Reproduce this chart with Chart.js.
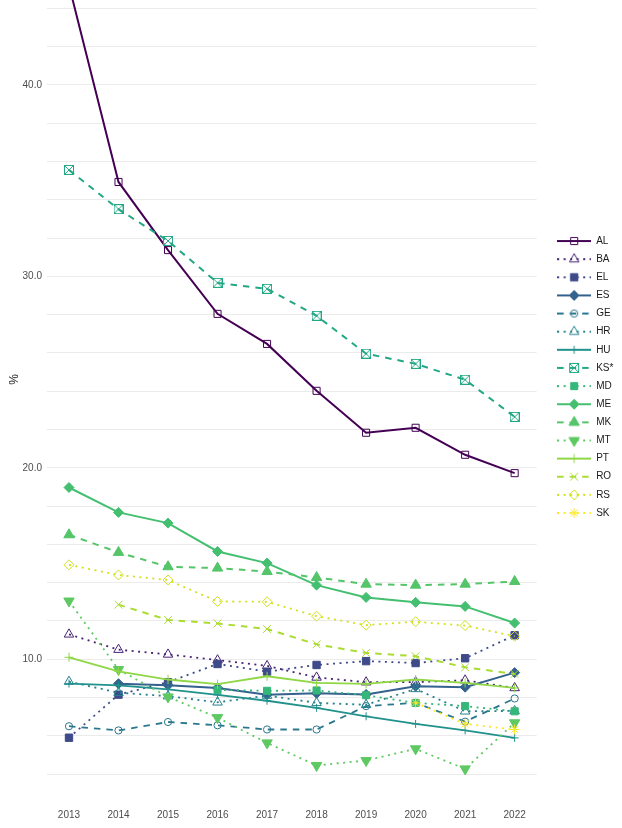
<!DOCTYPE html>
<html><head><meta charset="utf-8">
<script src="https://cdn.jsdelivr.net/npm/chart.js@4.4.1/dist/chart.umd.min.js"></script>
<style>
html,body{margin:0;padding:0;background:#fff;overflow:hidden;width:622px;height:828px;}
#wrap{position:absolute;left:0;top:-54px;width:622px;height:882px;}
</style></head><body>
<div id="wrap"><canvas id="c" width="622" height="882"></canvas></div>
<script>
// ---- data ----
const years = [2013, 2014, 2015, 2016, 2017, 2018, 2019, 2020, 2021, 2022];
const countries = ["AL","BA","EL","ES","GE","HR","HU","KS*","MD","ME","MK","MT","PT","RO","RS","SK"];
const AL = [45.2, 34.93, 31.37, 28.04, 26.47, 24.02, 21.83, 22.09, 20.68, 19.72];
const BA = [11.3, 10.5, 10.25, 9.95, 9.65, 9.05, 8.8, 8.8, 8.9, 8.5];
const EL = [5.9, 8.15, 8.8, 9.75, 9.35, 9.7, 9.9, 9.8, 10.05, 11.25];
const ES = [null, 8.72, 8.64, 8.5, 8.15, 8.22, 8.16, 8.59, 8.54, 9.3];
const GE = [6.5, 6.28, 6.72, 6.55, 6.33, 6.33, 7.55, 7.72, 6.74, 7.95];
const HR = [8.83, 8.25, 8.07, 7.75, 8.1, 7.72, 7.62, 8.45, 7.28, 7.3];
const HU = [8.73, 8.63, 8.42, 8.14, 7.83, 7.46, 7.02, 6.62, 6.28, 5.89];
const KS = [35.56, 33.51, 31.85, 29.66, 29.35, 27.94, 25.96, 25.43, 24.6, 22.66];
const MD = [null, null, null, 8.4, 8.35, 8.37, 8.12, 7.72, 7.55, 7.28];
const ME = [18.97, 17.67, 17.11, 15.63, 15.02, 13.87, 13.23, 12.97, 12.76, 11.89];
const MK = [16.5, 15.58, 14.83, 14.76, 14.58, 14.27, 13.92, 13.87, 13.92, 14.06];
const MT = [13.04, 9.46, 8.03, 6.95, 5.63, 4.45, 4.71, 5.32, 4.27, 6.68];
const PT = [10.1, 9.37, 8.94, 8.7, 9.11, 8.76, 8.71, 8.94, 8.76, 8.5];
const RO = [null, 12.85, 12.05, 11.87, 11.58, 10.78, 10.33, 10.16, 9.58, 9.23];
const RS = [14.93, 14.4, 14.14, 13.02, 13.0, 12.25, 11.78, 11.96, 11.76, 11.2];
const SK = [null, null, null, null, null, null, null, 7.72, 6.62, 6.33];
const seriesValues = [AL, BA, EL, ES, GE, HR, HU, KS, MD, ME, MK, MT, PT, RO, RS, SK];
const yTickValues = [4,6,8,10,12,14,16,18,20,22,24,26,28,30,32,34,36,38,40,42,44,46];

// ---- styles ----
const colors = ["#440154","#482475","#3E4A89","#34618D","#2A788E","#26828E","#21918C","#22A884",
                "#35B779","#44BF70","#54C568","#5EC962","#8FD744","#AADC32","#D2E21B","#FDE725"];
const DOT = [2, 4.5], DASH = [6.5, 6], SOLID = [];
const dashes = [SOLID, DOT, DOT, SOLID, DASH, DOT, SOLID, DASH, DOT, SOLID, DASH, DOT, SOLID, DASH, DOT, DOT];
const lineW  = [2, 1.8, 1.8, 2, 1.8, 1.8, 1.8, 2, 1.8, 2, 2, 1.8, 1.8, 2, 1.8, 1.8];

function squareCross(col){
  const c = document.createElement('canvas'); c.width = 10; c.height = 10;
  const g = c.getContext('2d'); g.strokeStyle = col; g.lineWidth = 1;
  g.strokeRect(0.5,0.5,9,9);
  g.beginPath(); g.moveTo(0.5,0.5); g.lineTo(9.5,9.5); g.moveTo(9.5,0.5); g.lineTo(0.5,9.5); g.stroke();
  return c;
}
// marker: [style, radius, filled, rotation]
const markers = [
  ['rect',5,false,0], ['triangle',5.5,false,0], ['rect',5.2,true,0], ['rectRot',5,true,0],
  ['circle',3.6,false,0], ['triangle',5.5,false,0], ['cross',4,false,0], [squareCross(colors[7]),5,false,0],
  ['rect',5,true,0], ['rectRot',5,true,0], ['triangle',6,true,0], ['triangle',6,true,180],
  ['cross',4.5,false,0], ['crossRot',5.5,false,0], ['rectRot',5,false,0], ['star',5,false,0]
];

function makeIcon(i){
  const c = document.createElement('canvas'); c.width = 34; c.height = 14;
  const g = c.getContext('2d');
  g.strokeStyle = colors[i]; g.lineWidth = lineW[i]; g.setLineDash(dashes[i]);
  g.beginPath(); g.moveTo(0,7); g.lineTo(34,7); g.stroke();
  g.setLineDash([]);
  const m = markers[i];
  g.fillStyle = m[2] ? colors[i] : 'rgba(0,0,0,0)';
  g.strokeStyle = colors[i]; g.lineWidth = 1;
  if (typeof m[0] !== 'string') { g.drawImage(m[0], 17 - 5, 7 - 5); }
  else { Chart.helpers.drawPoint(g, {pointStyle:m[0], radius:m[1], rotation:m[3], borderWidth:1}, 17, 7); }
  return c;
}

Chart.defaults.font.family = '"Liberation Sans", Arial, sans-serif';

const datasets = countries.map((name, i) => ({
  label: name,
  data: years.map((yr, k) => ({x: yr, y: seriesValues[i][k]})),
  borderColor: colors[i],
  borderWidth: lineW[i],
  borderDash: dashes[i],
  tension: 0,
  spanGaps: false,
  pointStyle: markers[i][0],
  pointRadius: markers[i][1],
  pointRotation: markers[i][3],
  pointBackgroundColor: markers[i][2] ? colors[i] : 'rgba(0,0,0,0)',
  pointBorderColor: colors[i],
  pointBorderWidth: 1,
  order: countries.length - i
}));

const legendShift = {
  id: 'legendShift',
  afterLayout(chart) {
    const lg = chart.legend; if (!lg) return;
    const dx = 549 - lg.left;
    lg.left += dx; lg.right += dx;
    lg.top -= 10; lg.bottom -= 10;
  }
};
const whiteBg = {
  id: 'whiteBg',
  beforeDraw(chart) { const g = chart.ctx; g.save(); g.fillStyle = '#fff'; g.fillRect(0,0,chart.width,chart.height); g.restore(); }
};

new Chart(document.getElementById('c'), {
  type: 'line',
  data: { datasets },
  plugins: [whiteBg, legendShift],
  options: {
    responsive: false, animation: false, devicePixelRatio: 1, events: [],
    layout: { padding: { left: 0, right: 11, top: 0, bottom: 0 } },
    plugins: {
      tooltip: { enabled: false },
      legend: {
        position: 'right',
        labels: {
          usePointStyle: true, pointStyleWidth: 34, boxHeight: 10, padding: 8.13,
          font: { size: 10 }, color: '#1a1a1a',
          generateLabels: () => countries.map((name, i) => ({
            text: name, pointStyle: makeIcon(i), fillStyle: 'rgba(0,0,0,0)', strokeStyle: 'rgba(0,0,0,0)',
            lineWidth: 0, hidden: false, datasetIndex: i, fontColor: '#1a1a1a'
          }))
        }
      }
    },
    scales: {
      x: {
        type: 'linear', min: 2012.556, max: 2022.444,
        afterBuildTicks: s => { s.ticks = years.map(v => ({value: v})); },
        afterFit: s => { s.height = 22; },
        ticks: { callback: v => String(v), padding: 3, color: '#4d4d4d', font: { size: 10 }, autoSkip: false, maxRotation: 0 },
        grid: { display: false, drawTicks: false },
        border: { display: false }
      },
      y: {
        type: 'linear', min: 2.333, max: 46.89,
        afterBuildTicks: s => { s.ticks = yTickValues.map(v => ({value: v})); },
        afterFit: s => { s.width = 47; s.paddingTop = 0; s.paddingBottom = 0; },
        ticks: { callback: v => (v % 10 === 0 ? v.toFixed(1) : ''), padding: 5, color: '#4d4d4d', font: { size: 10 }, autoSkip: false },
        grid: { color: '#ebebeb', lineWidth: 1, drawTicks: false },
        border: { display: false },
        title: { display: true, text: '%', font: { size: 12 }, color: '#1a1a1a', padding: { top: 7, bottom: 0 } }
      }
    }
  }
});
</script>
</body></html>
